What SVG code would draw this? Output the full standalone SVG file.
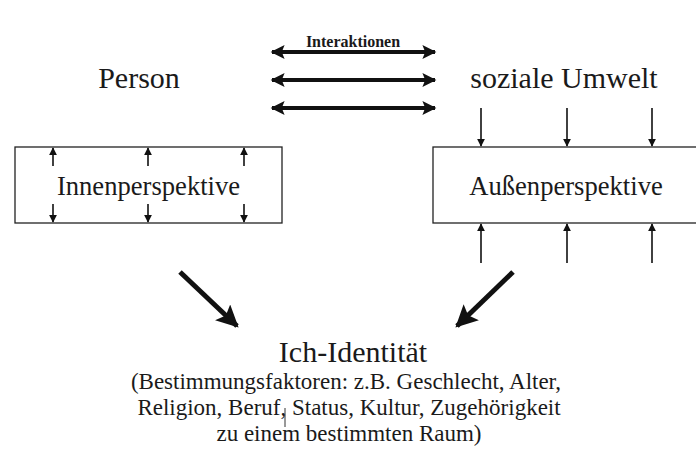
<svg xmlns="http://www.w3.org/2000/svg" width="696" height="472" viewBox="0 0 696 472">
<style>
text{font-family:"Liberation Serif","Times New Roman","DejaVu Serif",serif;fill:#1a1a1a;text-anchor:middle}
.big{font-size:30px}
.mid{font-size:26.6px}
.sub{font-size:23px}
.box{fill:#fff;stroke:#222;stroke-width:1.3}
.thin{stroke:#111;stroke-width:1.6;fill:none}
.thick{stroke:#111;stroke-width:4;fill:none}
.diag{stroke:#111;stroke-width:5;fill:none}
</style>
<defs>
<marker id="sa" viewBox="0 0 10 10" refX="9" refY="5" markerWidth="8" markerHeight="8" markerUnits="userSpaceOnUse" orient="auto-start-reverse"><path d="M0,0L10,5L0,10z" fill="#111"/></marker>
<marker id="ba" viewBox="0 0 10 10" refX="9" refY="5" markerWidth="20" markerHeight="14" markerUnits="userSpaceOnUse" orient="auto-start-reverse"><path d="M0,0L10,5L0,10L2,5z" fill="#111"/></marker>
<marker id="da" viewBox="0 0 10 10" refX="9" refY="5" markerWidth="24" markerHeight="22" markerUnits="userSpaceOnUse" orient="auto"><path d="M0,0L10,5L0,10L2,5z" fill="#111"/></marker>
</defs>
<rect width="696" height="472" fill="#fff"/>
<g id="person"><text class="big" x="139" y="88">Person</text></g>
<g id="umwelt"><text class="big" x="564" y="88">soziale Umwelt</text></g>
<g id="innen"><rect class="box" x="15" y="147" width="267" height="76"/><text class="mid" x="148.5" y="195">Innenperspektive</text></g>
<g id="aussen"><rect class="box" x="433" y="147" width="270" height="76"/><text class="mid" x="566" y="195">Außenperspektive</text></g>
<g id="ich">
<text x="353" y="362" style="font-size:30px">Ich-Identität</text>
<text class="sub" x="346" y="389">(Bestimmungsfaktoren: z.B. Geschlecht, Alter,</text>
<text class="sub" x="349" y="415">Religion, Beruf, Status, Kultur, Zugehörigkeit</text>
<text class="sub" x="349" y="441">zu einem bestimmten Raum)</text>
<line x1="285" y1="408" x2="285" y2="427" stroke="#333" stroke-width="1"/>
</g>
<g id="connectors">
<text x="353" y="47" style="font-size:16px;font-weight:bold">Interaktionen</text>
<line class="thick" x1="272" y1="52" x2="435" y2="52" marker-start="url(#ba)" marker-end="url(#ba)"/>
<line class="thick" x1="272" y1="80" x2="435" y2="80" marker-start="url(#ba)" marker-end="url(#ba)"/>
<line class="thick" x1="272" y1="108" x2="435" y2="108" marker-start="url(#ba)" marker-end="url(#ba)"/>
<line class="thin" x1="53" y1="166" x2="53" y2="148" marker-end="url(#sa)"/>
<line class="thin" x1="148" y1="166" x2="148" y2="148" marker-end="url(#sa)"/>
<line class="thin" x1="244" y1="166" x2="244" y2="148" marker-end="url(#sa)"/>
<line class="thin" x1="53" y1="204" x2="53" y2="222" marker-end="url(#sa)"/>
<line class="thin" x1="148" y1="204" x2="148" y2="222" marker-end="url(#sa)"/>
<line class="thin" x1="244" y1="204" x2="244" y2="222" marker-end="url(#sa)"/>
<line class="thin" x1="481" y1="108" x2="481" y2="146" marker-end="url(#sa)"/>
<line class="thin" x1="567" y1="108" x2="567" y2="146" marker-end="url(#sa)"/>
<line class="thin" x1="652" y1="108" x2="652" y2="146" marker-end="url(#sa)"/>
<line class="thin" x1="481" y1="263" x2="481" y2="224" marker-end="url(#sa)"/>
<line class="thin" x1="567" y1="263" x2="567" y2="224" marker-end="url(#sa)"/>
<line class="thin" x1="652" y1="263" x2="652" y2="224" marker-end="url(#sa)"/>
<line class="diag" x1="180" y1="272" x2="237" y2="326" marker-end="url(#da)"/>
<line class="diag" x1="513" y1="272" x2="457" y2="326" marker-end="url(#da)"/>
</g>
</svg>
